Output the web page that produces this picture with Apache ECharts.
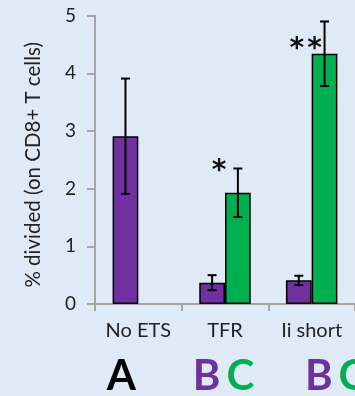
<!DOCTYPE html>
<html>
<head>
<meta charset="utf-8">
<script src="https://cdn.jsdelivr.net/npm/echarts@6/dist/echarts.min.js"></script>
<style>
html,body{margin:0;padding:0;background:#DEEAF6;}
#c{width:355px;height:396px;}
</style>
</head>
<body>
<div id="c"></div>
<script>
const categories = ['No ETS', 'TFR', 'Ii short'];
const purpleValues = [2.91, 0.37, 0.41];
const purpleErrors = [1.00, 0.13, 0.08];
const greenValues = [null, 1.93, 4.34];
const greenErrors = [null, 0.42, 0.56];
const starLabels = ['', '*', '**'];
const starValues = [null, 2.41, 4.53];
const yTicks = [0, 1, 2, 3, 4, 5];
const groupLetters = [['A'], ['B', 'C'], ['B', 'C']];

const PURPLE = '#7030A0', GREEN = '#00B050';
const FONT = 'Lato';

const chart = echarts.init(document.getElementById('c'), null, {renderer: 'canvas'});

const errData = [];
purpleValues.forEach((v, i) => { if (v != null) errData.push([i, v, purpleErrors[i], -1]); });
greenValues.forEach((v, i) => { if (v != null) errData.push([i, v, greenErrors[i], 1]); });

const starData = [];
starValues.forEach((v, i) => { if (v != null) starData.push([i, v]); });

const letterColor = {A: '#000000', B: PURPLE, C: GREEN};

chart.setOption({
  backgroundColor: '#DEEAF6',
  animation: false,
  grid: {left: 95, right: -3, top: 15.7, bottom: 92},
  xAxis: {
    type: 'category',
    data: categories,
    axisLine: {lineStyle: {color: '#A6A6A6', width: 2}},
    axisTick: {show: true, length: 7, lineStyle: {color: '#A6A6A6', width: 2}},
    axisLabel: {color: '#222', fontFamily: FONT, fontSize: 20, margin: 17}
  },
  yAxis: {
    type: 'value',
    min: 0, max: 5, interval: 1,
    name: '% divided (on CD8+ T cells)',
    nameLocation: 'middle',
    nameGap: 51,
    nameTextStyle: {color: '#222', fontFamily: FONT, fontSize: 20.5, padding: [0, 10, 0, 0]},
    splitLine: {show: false},
    axisLine: {show: true, lineStyle: {color: '#A6A6A6', width: 2}},
    axisTick: {show: true, length: 8, lineStyle: {color: '#A6A6A6', width: 2}},
    axisLabel: {color: '#222', fontFamily: FONT, fontSize: 19, margin: 19,
      formatter: v => yTicks.includes(v) ? String(v) : ''}
  },
  series: [
    {
      type: 'bar', data: purpleValues, barGap: '0%', barCategoryGap: '40.6%',
      itemStyle: {color: PURPLE, borderColor: '#000', borderWidth: 1.5}
    },
    {
      type: 'bar', data: greenValues, barGap: '0%', barCategoryGap: '40.6%',
      itemStyle: {color: GREEN, borderColor: '#000', borderWidth: 1.5}
    },
    {
      type: 'custom', data: errData, z: 10,
      renderItem: function (params, api) {
        const bw = api.size([1, 0])[0];
        const c = api.value(0), v = api.value(1), e = api.value(2), side = api.value(3);
        const x = api.coord([c, 0])[0] + side * bw * 0.1486;
        const yt = api.coord([c, v + e])[1];
        const yb = api.coord([c, v - e])[1];
        const hw = 4.5;
        const st = {stroke: '#000', lineWidth: 2};
        return {type: 'group', children: [
          {type: 'line', shape: {x1: x, y1: yt, x2: x, y2: yb}, style: st},
          {type: 'line', shape: {x1: x - hw, y1: yt, x2: x + hw, y2: yt}, style: st},
          {type: 'line', shape: {x1: x - hw, y1: yb, x2: x + hw, y2: yb}, style: st}
        ]};
      }
    },
    {
      type: 'custom', data: starData, z: 11,
      renderItem: function (params, api) {
        const c = api.value(0), v = api.value(1);
        const p = api.coord([c, v]);
        const chars = starLabels[c].split('');
        const txt = chars.map(() => '{s|*}').join('{g| }');
        return {type: 'text', x: p[0] - 6, y: p[1] + 7,
          style: {text: txt, align: 'center', verticalAlign: 'middle',
            rich: {s: {fill: '#111', font: 'bold 28px "DejaVu Sans"'}, g: {width: 3, font: '10px sans-serif'}}}};
      }
    }
  ]
});

// Group letters under the category labels
const graphics = [];
const letterShift = [-17, -1.5, 24];
categories.forEach((cat, i) => {
  const cx = chart.convertToPixel({xAxisIndex: 0}, cat) + letterShift[i];
  const rich = {sp: {width: 6}};
  const txt = groupLetters[i].map(L => '{' + L + '|' + L + '}').join('{sp| }');
  groupLetters[i].forEach(L => { rich[L] = {fill: letterColor[L], font: 'bold 42px ' + FONT}; });
  graphics.push({type: 'text', x: cx, y: 376,
    style: {text: txt, rich: rich, align: 'center', verticalAlign: 'middle'}});
});
chart.setOption({graphic: graphics});
</script>
</body>
</html>
